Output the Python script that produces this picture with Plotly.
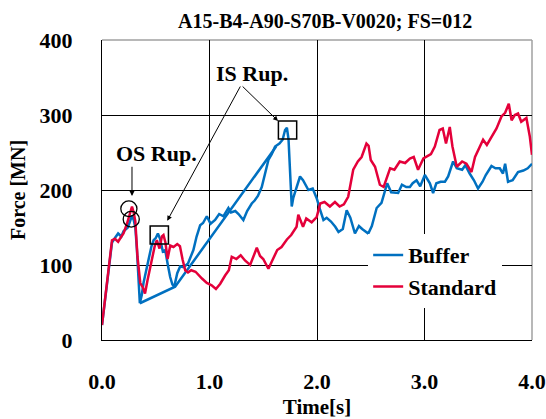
import plotly.graph_objects as go

# ---------------- data ----------------
t_standard = [0, 0.03, 0.062, 0.093, 0.12, 0.15, 0.18, 0.2, 0.232, 0.263, 0.279, 0.295, 0.31, 0.33,
              0.356, 0.38, 0.40, 0.424, 0.449, 0.47, 0.49, 0.51, 0.535, 0.557, 0.572, 0.59, 0.61,
              0.635, 0.665, 0.70, 0.725, 0.75, 0.774, 0.80, 0.83, 0.87, 0.90, 0.93, 0.975, 1.02,
              1.06, 1.10, 1.145, 1.18, 1.207, 1.25, 1.29, 1.33, 1.378, 1.41, 1.44, 1.47, 1.5,
              1.548, 1.59, 1.63, 1.67, 1.72, 1.76, 1.81, 1.826, 1.85, 1.87, 1.90, 1.92, 1.95,
              1.997, 2.03, 2.07, 2.12, 2.167, 2.21, 2.25, 2.29, 2.337, 2.38, 2.415, 2.46, 2.48,
              2.5, 2.54, 2.585, 2.62, 2.65, 2.68, 2.72, 2.77, 2.82, 2.864, 2.90, 2.94, 2.99,
              3.03, 3.06, 3.096, 3.14, 3.17, 3.2, 3.235, 3.26, 3.3, 3.35, 3.39, 3.437, 3.47,
              3.514, 3.545, 3.58, 3.623, 3.67, 3.716, 3.75, 3.784, 3.81, 3.84, 3.87, 3.90,
              3.948, 3.98, 4.0]
f_standard = [20, 55, 98, 133, 135, 131, 138, 142, 155, 172, 178, 170, 158, 111,
              76, 70, 62, 80, 98, 115, 125, 133, 122, 138, 140, 130, 108,
              126, 124, 128, 125, 107, 93, 90, 93, 91, 86, 82, 76, 73,
              68, 75, 86, 93, 111, 108, 113, 106, 100, 113, 123, 112, 108,
              95, 108, 120, 124, 134, 140, 151, 167, 157, 151, 162, 160, 157,
              164, 182, 184, 178, 184, 178, 181, 191, 227, 238, 244, 262, 259,
              240, 231, 207, 204, 216, 229, 227, 238, 236, 242, 244, 227, 242,
              246, 248, 258, 280, 282, 262, 284, 258, 231, 238, 235, 224, 244,
              258, 267, 260, 271, 282, 298, 303, 315, 293, 300, 302, 291,
              296, 271, 247]

t_buffer = [0, 0.03, 0.062, 0.093, 0.12, 0.15, 0.18, 0.2, 0.216, 0.24, 0.26, 0.279, 0.295, 0.31,
            0.325, 0.34, 0.352, 0.37, 0.386, 0.41, 0.433, 0.46, 0.48, 0.50, 0.52, 0.54, 0.566,
            0.588, 0.61, 0.634, 0.655, 0.672, 0.70, 0.727, 0.76, 0.80, 0.85, 0.88, 0.913, 0.94,
            0.975, 1.01, 1.052, 1.09, 1.13, 1.176, 1.2, 1.24, 1.27, 1.315, 1.35, 1.393, 1.42,
            1.45, 1.486, 1.52, 1.548, 1.58, 1.61, 1.65, 1.68, 1.703, 1.72, 1.735, 1.75, 1.765,
            1.78, 1.80, 1.842, 1.87, 1.92, 1.96, 1.997, 2.03, 2.06, 2.09, 2.13, 2.17, 2.2,
            2.24, 2.276, 2.31, 2.353, 2.39, 2.42, 2.477, 2.51, 2.555, 2.6, 2.653, 2.69, 2.755,
            2.79, 2.83, 2.864, 2.89, 2.926, 2.96, 3.003, 3.05, 3.08, 3.11, 3.15, 3.19, 3.22,
            3.266, 3.3, 3.35, 3.38, 3.42, 3.46, 3.498, 3.54, 3.57, 3.623, 3.66, 3.70, 3.73,
            3.75, 3.777, 3.82, 3.87, 3.92, 3.96, 4.0]
f_buffer = [20, 55, 98, 130, 136, 142, 138, 145, 147, 150, 158, 166, 160, 150,
            120, 75, 49, 60, 76, 92, 107, 125, 133, 136, 142, 135, 118,
            120, 102, 84, 74, 71, 89, 98, 97, 102, 120, 138, 153, 156,
            165, 155, 160, 168, 165, 176, 170, 172, 168, 160, 172, 182, 186,
            192, 204, 222, 240, 248, 258, 262, 267, 280, 283, 268, 218, 178,
            190, 200, 218, 213, 200, 202, 189, 173, 160, 163, 158, 151, 144,
            148, 173, 163, 142, 152, 148, 142, 152, 176, 183, 209, 197, 196,
            207, 204, 204, 209, 213, 205, 220, 209, 196, 209, 211, 211, 218,
            238, 229, 227, 233, 222, 213, 202, 211, 220, 232, 229, 229, 222,
            235, 211, 213, 224, 226, 229, 235]
# straight connector segments drawn in the Buffer series
t_buffer_jump = [0.352, 0.68, 1.62]
f_buffer_jump = [49, 71, 258]

series_names = ["Buffer", "Standard"]
series_colors = ["#0070C0", "#E4003A"]
x_ticks = [0, 1, 2, 3, 4]
x_tick_labels = ["0.0", "1.0", "2.0", "3.0", "4.0"]
y_ticks = [0, 100, 200, 300, 400]
title_text = "A15-B4-A90-S70B-V0020; FS=012"

FONT = "Liberation Serif"

fig = go.Figure()
fig.add_trace(go.Scatter(
    x=t_buffer + [None] + t_buffer_jump,
    y=f_buffer + [None] + f_buffer_jump,
    mode="lines", name=series_names[0],
    line=dict(color=series_colors[0], width=2.5),
    connectgaps=False,
))
fig.add_trace(go.Scatter(
    x=t_standard, y=f_standard, mode="lines", name=series_names[1],
    line=dict(color=series_colors[1], width=2.5),
))

bold = dict(family=FONT, color="black", weight="bold")

fig.update_layout(
    width=546, height=419,
    margin=dict(l=102, r=14, t=40, b=79, autoexpand=False),
    paper_bgcolor="white", plot_bgcolor="white",
    font=dict(**bold, size=22),
    title=dict(text=title_text, x=0.519, xref="paper", xanchor="center",
               y=1 - 21 / 419, yref="container", yanchor="middle",
               font=dict(**bold, size=20)),
    showlegend=True,
    legend=dict(x=0.619, y=0.353, xanchor="left", yanchor="top",
                bgcolor="white", borderwidth=0,
                font=dict(**bold, size=22)),
)
fig.update_xaxes(
    range=[0, 4], tickvals=x_ticks, ticktext=x_tick_labels,
    showgrid=True, gridcolor="black", gridwidth=1,
    showline=True, linecolor="black", linewidth=1,
    zeroline=False, ticks="", ticklabelstandoff=22, automargin=False,
    tickfont=dict(**bold, size=22),
    title=dict(text="Time[s]", font=dict(**bold, size=21), standoff=6),
)
fig.update_yaxes(
    range=[0, 400], tickvals=y_ticks,
    showgrid=True, gridcolor="black", gridwidth=1,
    showline=True, linecolor="black", linewidth=1,
    zeroline=False, ticks="", ticklabelstandoff=24, automargin=False,
    tickfont=dict(**bold, size=22),
    title=dict(text="Force [MN]", font=dict(**bold, size=20), standoff=8),
)

# gray top / right frame
fig.add_shape(type="line", xref="paper", yref="paper", x0=0, x1=1, y0=1, y1=1,
              line=dict(color="#A0A0A0", width=1.5), layer="between")
fig.add_shape(type="line", xref="paper", yref="paper", x0=1, x1=1, y0=0, y1=1,
              line=dict(color="#A0A0A0", width=1.5), layer="between")

# circles (OS rupture) and squares (IS rupture)
for cx, cy in [(0.250, 175), (0.272, 161)]:
    fig.add_shape(type="circle", xref="x", yref="y",
                  x0=cx - 0.075, x1=cx + 0.075, y0=cy - 10.5, y1=cy + 10.5,
                  line=dict(color="black", width=1.3), layer="above")
for cx, cy in [(0.533, 140), (1.726, 280)]:
    fig.add_shape(type="rect", xref="x", yref="y",
                  x0=cx - 0.085, x1=cx + 0.085, y0=cy - 12, y1=cy + 12,
                  line=dict(color="black", width=1.5), layer="above")

fig.add_annotation(x=0.504, y=249, xref="x", yref="y", text="OS Rup.",
                   showarrow=False, font=dict(**bold, size=22))
fig.add_annotation(x=1.396, y=356, xref="x", yref="y", text="IS Rup.",
                   showarrow=False, font=dict(**bold, size=22))

arrows = [((0.279, 233), (0.279, 192)),
          ((1.294, 340), (1.638, 292)),
          ((1.294, 340), (0.607, 159))]
for (tx, ty), (hx, hy) in arrows:
    fig.add_annotation(x=hx, y=hy, ax=tx, ay=ty, xref="x", yref="y",
                       axref="x", ayref="y", text="", showarrow=True,
                       arrowhead=2, arrowsize=1, arrowwidth=1,
                       arrowcolor="black", standoff=0, startstandoff=0)

fig.write_html("out.html")
